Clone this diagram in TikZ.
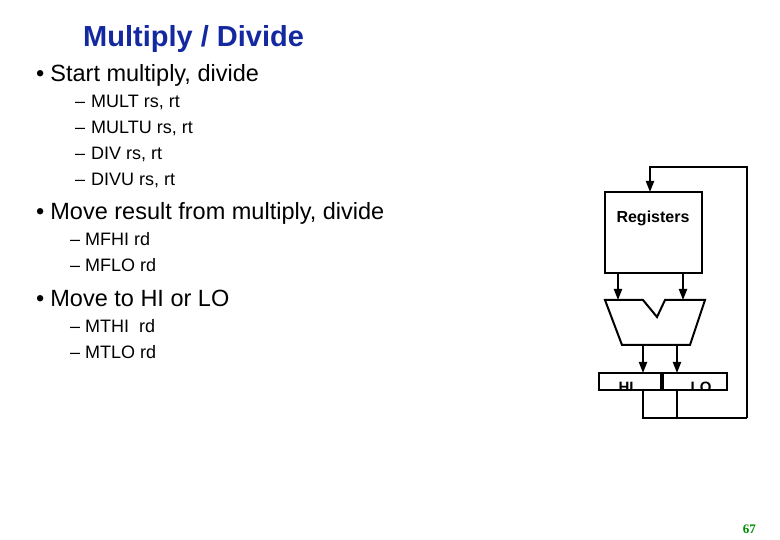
\documentclass[tikz,border=0pt]{standalone}
\usepackage{fontspec}
\usetikzlibrary{arrows.meta}
\setmainfont{Liberation Sans}
\newfontfamily\serifpn{Liberation Serif}
\begin{document}
\begin{tikzpicture}[x=1pt,y=-1pt,
  ln/.style={line width=2pt},
  ar/.style={ln,-{Triangle[length=11pt,width=8pt]}},
  bul/.style={anchor=base west,font=\fontsize{23.5}{27}\selectfont,inner sep=0},
  sub/.style={anchor=base west,font=\fontsize{18}{21}\selectfont,inner sep=0}]
\useasboundingbox (0,0) rectangle (780,540);
\node[anchor=base west,inner sep=0,font=\fontsize{29}{34}\selectfont\bfseries,text={rgb,255:red,20;green,40;blue,160}] (title) at (83,47) {Multiply / Divide};
\node[bul] (b1) at (36,82) {•\hspace{6pt}Start multiply, divide};
\foreach \t/\y [count=\i] in {MULT rs{,} rt/108,MULTU rs{,} rt/134,DIV rs{,} rt/160,DIVU rs{,} rt/186}{
  \node[sub] (d\i) at (75,\y) {–};
  \node[sub] (s\i) at (91,\y) {\t};
}
\node[bul] (b2) at (36,220) {•\hspace{6pt}Move result from multiply, divide};
\node[sub] (m1) at (70,246) {–\hspace{5pt}MFHI rd};
\node[sub] (m2) at (70,272) {–\hspace{5pt}MFLO rd};
\node[bul] (b3) at (36,307) {•\hspace{6pt}Move to HI or LO};
\node[sub] (t1) at (70,333) {–\hspace{5pt}MTHI\ \ rd};
\node[sub] (t2) at (70,359) {–\hspace{5pt}MTLO rd};
% registers
\draw[ln] (605,192) rectangle (702,273);
\node[font=\fontsize{16}{18}\selectfont\bfseries] (reg) at (653,218) {Registers};
\coordinate (rtop) at (650,192);
\draw[ar] (747,418) -- (747,167) -- (650,167) -- (rtop);
\draw[ar] (618,273) -- (618,300);
\draw[ar] (683,273) -- (683,300);
\draw[ln] (605,300) -- (643,300) -- (657,317) -- (665,300) -- (705,300) -- (690,345) -- (622,345) -- cycle;
\draw[ar] (643,345) -- (643,373);
\draw[ar] (677,345) -- (677,373);
\draw[ln] (599,373) rectangle (727,390);
\draw[line width=3.5pt] (662,373) -- (662,389);
\node[font=\fontsize{15}{17}\selectfont\bfseries,anchor=base] (hi) at (626,392) {HI};
\node[font=\fontsize{15}{17}\selectfont\bfseries,anchor=base] (lo) at (701,392) {LO};
\fill[white] (600,391) rectangle (726,400);
\draw[ln] (599,390) -- (727,390);
\draw[ln] (643,390) -- (643,418) -- (747,418);
\draw[ln] (677,390) -- (677,418);
\node[anchor=base east,inner sep=0,font=\serifpn\bfseries\fontsize{13}{15}\selectfont,text={rgb,255:red,0;green,140;blue,0}] (pg) at (756,533) {67};
\end{tikzpicture}
\end{document}
